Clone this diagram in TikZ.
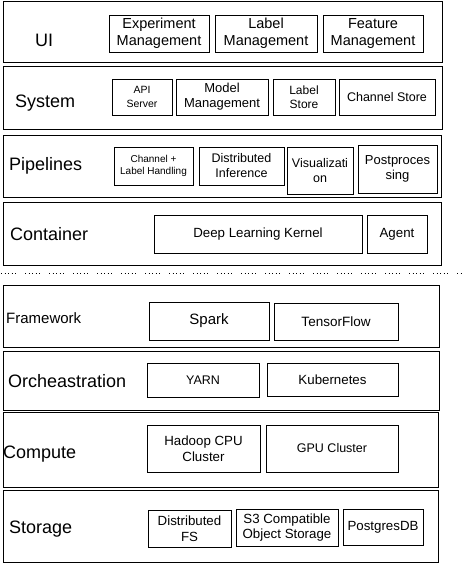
\documentclass[tikz,border=0pt]{standalone}
\usepackage{fontspec}
\setmainfont{Liberation Sans}
\usepackage{tikz}

\begin{document}
\begin{tikzpicture}[
  x=1pt, y=-1pt,
  layer/.style={draw, line width=0.9pt, inner sep=0pt},
  part/.style={draw, line width=0.8pt, inner sep=0pt, align=center, font=\fontsize{13.3}{15.5}\selectfont},
  title/.style={anchor=base west, inner sep=0pt, font=\fontsize{18}{20}\selectfont},
  cut/.style={line width=0.9pt, dash pattern=on 1pt off 2.5pt on 1pt off 2.5pt on 1pt off 2.5pt on 1pt off 2.5pt on 1pt off 9pt}
]
\useasboundingbox (0,0) rectangle (462,564);

% UI
\node[layer, minimum width=439pt, minimum height=61pt] (ui) at (222.5,31.5) {};
\node[title] (uiT) at (35,46.7) {UI};
\node[part, minimum width=100pt, minimum height=37pt, font=\fontsize{14.5}{17}\selectfont] (exp) at (159,33.5) {Experiment\\Management};
\node[part, minimum width=102pt, minimum height=37pt, font=\fontsize{14.5}{17}\selectfont] (labm) at (266,33.5) {Label\\Management};
\node[part, minimum width=100pt, minimum height=37pt, font=\fontsize{14.5}{17}\selectfont] (feat) at (373,33.5) {Feature\\Management};

% System
\node[layer, minimum width=439pt, minimum height=63pt] (sys) at (222.5,97.5) {};
\node[title] (sysT) at (15,108) {System};
\node[part, minimum width=60pt, minimum height=36pt, font=\fontsize{10.5}{13.5}\selectfont] (api) at (142,97) {API\\Server};
\node[part, minimum width=92pt, minimum height=36pt, font=\fontsize{13}{15}\selectfont] (model) at (222,97) {Model\\Management};
\node[part, minimum width=62pt, minimum height=36pt, font=\fontsize{12}{14.5}\selectfont] (lstore) at (304,97) {Label\\Store};
\node[part, minimum width=96pt, minimum height=36pt, font=\fontsize{12.5}{15}\selectfont] (chan) at (387,97) {Channel Store};

% Pipelines
\node[layer, minimum width=438pt, minimum height=62.5pt] (pipe) at (222,166.25) {};
\node[title] (pipeT) at (9,171) {Pipelines};
\node[part, minimum width=79pt, minimum height=38pt, font=\fontsize{10}{12.5}\selectfont] (chlab) at (153.5,166) {Channel +\\Label Handling};
\node[part, minimum width=85pt, minimum height=38pt, font=\fontsize{12.5}{15}\selectfont] (dinf) at (241.5,166) {Distributed\\Inference};
\node[part, minimum width=66pt, minimum height=47pt, font=\fontsize{12.5}{15}\selectfont] (vis) at (320,170.5) {Visualizati\\on};
\node[part, minimum width=79pt, minimum height=48pt, font=\fontsize{13}{15.5}\selectfont] (post) at (397.5,169) {Postproces\\sing};

% Container
\node[layer, minimum width=438pt, minimum height=62.3pt] (cont) at (222,233.85) {};
\node[title] (contT) at (10,240) {Container};
\node[part, minimum width=208pt, minimum height=38pt] (dlk) at (258,234) {Deep Learning Kernel};
\node[part, minimum width=60pt, minimum height=38pt] (agent) at (397,234) {Agent};

% split line
\coordinate (cutL) at (1,273.5);
\coordinate (cutR) at (462,273.5);
\draw[cut] (cutL) -- (cutR);

% Framework
\node[layer, minimum width=436pt, minimum height=62.7pt] (frame) at (221,316.35) {};
\node[title, font=\fontsize{15}{17}\selectfont] (frameT) at (6,323.3) {Framework};
\node[part, minimum width=120pt, minimum height=38pt, font=\fontsize{15}{17}\selectfont] (spark) at (209,321) {Spark};
\node[part, minimum width=124pt, minimum height=37pt, font=\fontsize{13.5}{16}\selectfont] (tf) at (336,321.5) {TensorFlow};

% Orcheastration
\node[layer, minimum width=436pt, minimum height=58.3pt] (orch) at (221,380.85) {};
\node[title] (orchT) at (8,387) {Orcheastration};
\node[part, minimum width=112pt, minimum height=34pt, font=\fontsize{12.5}{15}\selectfont] (yarn) at (203,380) {YARN};
\node[part, minimum width=131pt, minimum height=33pt] (kube) at (332.5,379.5) {Kubernetes};

% Compute
\node[layer, minimum width=435pt, minimum height=75pt] (comp) at (220.5,449.5) {};
\node[title] (compT) at (3,458.3) {Compute};
\node[part, minimum width=113pt, minimum height=47pt] (hadoop) at (203.5,448.5) {Hadoop CPU\\Cluster};
\node[part, minimum width=132pt, minimum height=47pt, font=\fontsize{12.5}{15}\selectfont] (gpu) at (332,448.5) {GPU Cluster};

% Storage
\node[layer, minimum width=435pt, minimum height=72.7pt] (stor) at (220.5,526.35) {};
\node[title] (storT) at (9,533) {Storage};
\node[part, minimum width=83pt, minimum height=37pt] (dfs) at (189.5,528.5) {Distributed\\FS};
\node[part, minimum width=102pt, minimum height=37pt] (s3) at (287,527.5) {S3 Compatible\\Object Storage};
\node[part, minimum width=80pt, minimum height=36pt] (pg) at (383,527) {PostgresDB};

\end{tikzpicture}
\end{document}
